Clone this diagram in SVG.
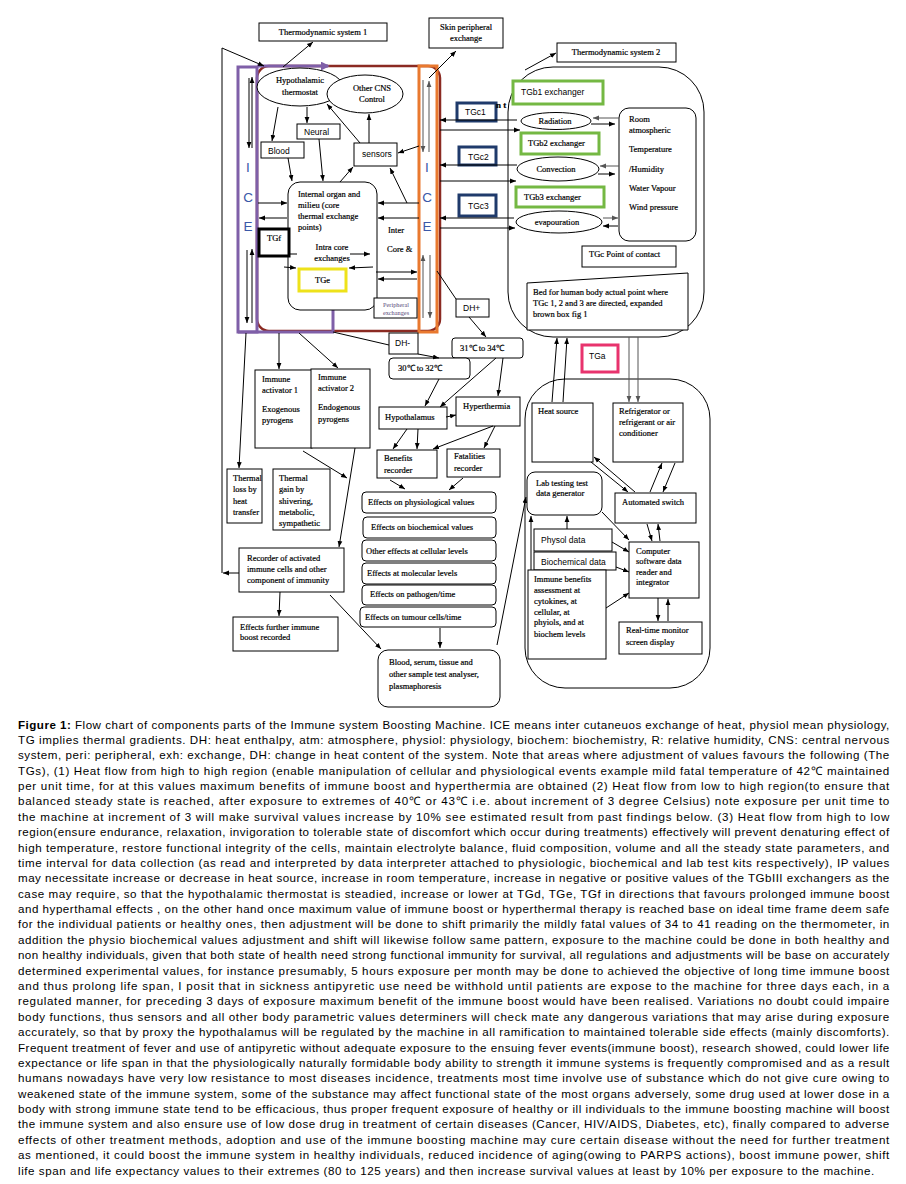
<svg xmlns="http://www.w3.org/2000/svg" width="906" height="1184" viewBox="0 0 906 1184">
<defs>
<marker id="a" viewBox="0 0 10 10" refX="10" refY="5" markerWidth="6" markerHeight="6" orient="auto" markerUnits="userSpaceOnUse"><path d="M0,1 L10,5 L0,9 z" fill="#000"/></marker>
<marker id="ag" viewBox="0 0 10 10" refX="10" refY="5" markerWidth="6" markerHeight="6" orient="auto" markerUnits="userSpaceOnUse"><path d="M0,1 L10,5 L0,9 z" fill="#555"/></marker>
<marker id="ap" viewBox="0 0 10 10" refX="8" refY="5" markerWidth="9" markerHeight="9" orient="auto" markerUnits="userSpaceOnUse"><path d="M0,0 L10,5 L0,10 z" fill="#7F5FA8"/></marker>
</defs>
<style>
.b{fill:#fff;stroke:#000;stroke-width:1}
.t{font-family:"Liberation Serif","Times New Roman",serif;font-size:8.5px;fill:#000;stroke:#000;stroke-width:0.2}
.s{font-family:"Liberation Sans",Arial,sans-serif;font-size:8.5px;fill:#000}
.m{text-anchor:middle}
.ice{font-family:"Liberation Sans",Arial,sans-serif;font-size:13.5px;fill:#3A58A8;text-anchor:middle}
.cap{font-family:"Liberation Sans Narrow","Arial Narrow","Liberation Sans",Arial,sans-serif;font-size:11.6px;letter-spacing:-0.3px;fill:#000}
#conn line,#conn path{stroke:#000;stroke-width:1;fill:none;marker-end:url(#a)}
#conn .n{marker-end:none}
#conn .g{stroke:#555;marker-end:url(#ag)}
</style>
<rect width="906" height="1184" fill="#fff"/>

<g id="brown-frame"><rect x="257" y="66" width="183" height="265" rx="12" fill="none" stroke="#8B2A22" stroke-width="2.5"/></g>
<g id="ice-left"><rect x="238" y="67" width="19" height="265" fill="none" stroke="#7F5FA8" stroke-width="3"/>
<text class="ice" x="248" y="172">I</text><text class="ice" x="248" y="202">C</text><text class="ice" x="248" y="231">E</text></g>
<g id="ice-right"><rect x="419" y="66" width="18" height="266" fill="none" stroke="#E9792F" stroke-width="3"/>
<text class="ice" x="427" y="172">I</text><text class="ice" x="427" y="202">C</text><text class="ice" x="427" y="231">E</text></g>
<line x1="257" y1="66" x2="328" y2="66" stroke="#7F5FA8" stroke-width="3" marker-end="url(#ap)"/>
<line x1="333" y1="308" x2="333" y2="332" stroke="#7F5FA8" stroke-width="3"/>
<line x1="238" y1="332" x2="334" y2="332" stroke="#7F5FA8" stroke-width="3"/>

<g id="ts1"><rect class="b" x="259" y="23" width="128" height="18"/><text class="t m" x="323" y="35">Thermodynamic system 1</text></g>
<g id="skin"><rect class="b" x="429" y="18" width="74" height="30"/><text class="t m" x="466" y="30">Skin peripheral</text><text class="t m" x="466" y="41">exchange</text></g>
<g id="ts2"><rect class="b" x="557" y="43" width="119" height="19"/><text class="t m" x="616" y="55">Thermodynamic system 2</text></g>

<g id="thermostat"><ellipse class="b" cx="300" cy="87" rx="43" ry="19"/><text class="t m" x="300" y="83">Hypothalamic</text><text class="t m" x="300" y="95">thermostat</text></g>
<g id="cns"><ellipse class="b" cx="365" cy="94" rx="38" ry="19"/><text class="t m" x="372" y="91">Other CNS</text><text class="t m" x="372" y="102">Control</text></g>
<g id="neural"><rect class="b" x="297" y="124" width="43" height="15"/><text class="s" x="304" y="135">Neural</text></g>
<g id="blood"><rect class="b" x="261" y="142" width="43" height="16"/><text class="s" x="268" y="154">Blood</text></g>
<g id="sensors"><rect class="b" x="354" y="143" width="43" height="23"/><text class="s" x="362" y="157">sensors</text></g>
<g id="internal"><rect class="b" x="288" y="182" width="89" height="128" rx="12"/>
<text class="t" x="298" y="197">Internal organ and</text><text class="t" x="298" y="208">milieu (core</text><text class="t" x="298" y="219">thermal exchange</text><text class="t" x="298" y="230">points)</text>
<text class="t m" x="332" y="250">Intra core</text><text class="t m" x="332" y="261">exchanges</text></g>
<g id="tgf"><rect x="259" y="229" width="30" height="27" fill="#fff" stroke="#000" stroke-width="3"/><text class="t" x="267" y="241">TGf</text></g>
<g id="tge"><rect x="299" y="269" width="47" height="22" fill="#fff" stroke="#EEE21A" stroke-width="3"/><text class="t" x="315" y="283">TGe</text></g>
<g id="peri"><rect class="b" x="374" y="298" width="43" height="20"/><text class="m" x="396" y="307" style="font-family:'Liberation Serif',serif;font-size:6.3px;fill:#5A4A7A">Peripheral</text><text class="m" x="396" y="315" style="font-family:'Liberation Serif',serif;font-size:6.3px;fill:#5A4A7A">exchanges</text></g>
<g id="intercore"><text class="t" x="388" y="233">Inter</text><text class="t" x="387" y="252">Core &amp;</text></g>

<g id="tgc1"><rect x="457" y="103" width="39" height="18" fill="#fff" stroke="#1F3A6B" stroke-width="3"/><text class="s" x="465" y="115">TGc1</text></g>
<g id="tgc2"><rect x="459" y="147" width="37" height="18" fill="#fff" stroke="#1F3A6B" stroke-width="3"/><text class="s" x="468" y="160">TGc2</text></g>
<g id="tgc3"><rect x="459" y="195" width="37" height="21" fill="#fff" stroke="#1F3A6B" stroke-width="3"/><text class="s" x="468" y="209">TGc3</text></g>

<g id="sys2"><rect x="508" y="67" width="196" height="270" rx="45" fill="none" stroke="#000" stroke-width="1"/></g>
<text class="t" x="496" y="108" style="font-size:9px;font-weight:bold">n t</text>
<g id="tgb1"><rect x="513" y="81" width="90" height="23" fill="#fff" stroke="#74B843" stroke-width="3"/><text class="s" x="521" y="95">TGb1 exchanger</text></g>
<g id="radiation"><ellipse class="b" cx="556" cy="121" rx="35" ry="8.5"/><text class="t m" x="555" y="124">Radiation</text></g>
<g id="tgb2"><rect x="521" y="133" width="78" height="21" fill="#fff" stroke="#74B843" stroke-width="3"/><text class="t" x="528" y="146">TGb2 exchanger</text></g>
<g id="convection"><ellipse class="b" cx="558" cy="169" rx="41" ry="12"/><text class="t m" x="556" y="172">Convection</text></g>
<g id="tgb3"><rect x="516" y="187" width="88" height="20" fill="#fff" stroke="#74B843" stroke-width="3"/><text class="t" x="524" y="200">TGb3 exchanger</text></g>
<g id="evap"><ellipse class="b" cx="559" cy="222" rx="43" ry="11"/><text class="t m" x="557" y="225">evapouration</text></g>
<g id="room"><rect class="b" x="619" y="108" width="77" height="133" rx="10"/>
<text class="t" x="629" y="122">Room</text><text class="t" x="629" y="133">atmospheric</text><text class="t" x="629" y="152">Temperature</text><text class="t" x="629" y="172">/Humidity</text><text class="t" x="629" y="191">Water Vapour</text><text class="t" x="629" y="210">Wind pressure</text></g>
<g id="contact"><rect class="b" x="582" y="246" width="94" height="21"/><text class="t" x="589" y="257">TGc Point of contact</text></g>
<g id="bed"><polygon class="b" points="527,283 688,273 688,330 527,330"/><text class="t" x="533" y="295">Bed for human body actual point where</text><text class="t" x="533" y="306">TGc 1, 2 and 3 are directed, expanded</text><text class="t" x="533" y="317">brown box fig 1</text></g>

<g id="dhplus"><rect class="b" x="456" y="299" width="33" height="18"/><text class="s" x="463" y="311">DH+</text></g>
<g id="r3134"><rect class="b" x="452" y="338" width="71" height="20" rx="3"/><text class="t" x="460" y="351">31℃  to 34℃</text></g>
<g id="dhminus"><rect class="b" x="389" y="333" width="29" height="21"/><text class="s" x="395" y="346">DH-</text></g>
<g id="r3032"><rect class="b" x="389" y="358" width="81" height="21" rx="4"/><text class="t" x="398" y="371">30℃     to 32℃</text></g>
<g id="hypothalamus"><rect class="b" x="379" y="407" width="68" height="22"/><text class="t" x="385" y="420">Hypothalamus</text></g>
<g id="hyperthermia"><rect class="b" x="456" y="397" width="64" height="29"/><text class="t" x="463" y="409">Hyperthermia</text></g>
<g id="benefits"><rect class="b" x="377" y="450" width="60" height="28"/><text class="t" x="384" y="461">Benefits</text><text class="t" x="384" y="473">recorder</text></g>
<g id="fatalities"><rect class="b" x="447" y="449" width="53" height="28"/><text class="t" x="454" y="459">Fatalities</text><text class="t" x="454" y="471">recorder</text></g>

<g id="eff1"><rect class="b" x="362" y="492" width="134" height="21" rx="4"/><text class="t" x="368" y="505">Effects on physiological values</text></g>
<g id="eff2"><rect class="b" x="363" y="517" width="133" height="21" rx="4"/><text class="t" x="371" y="530">Effects on biochemical values</text></g>
<g id="eff3"><rect class="b" x="362" y="540" width="134" height="21" rx="4"/><text class="t" x="366" y="554">Other effects at cellular levels</text></g>
<g id="eff4"><rect class="b" x="362" y="563" width="134" height="21" rx="4"/><text class="t" x="367" y="576">Effects at molecular levels</text></g>
<g id="eff5"><rect class="b" x="362" y="585" width="134" height="20" rx="4"/><text class="t" x="370" y="597">Effects on pathogen/time</text></g>
<g id="eff6"><rect class="b" x="360" y="607" width="136" height="20" rx="4"/><text class="t" x="365" y="620">Effects on tumour cells/time</text></g>
<g id="analyser"><rect class="b" x="378" y="650" width="122" height="57" rx="10"/><text class="t" x="389" y="665">Blood, serum, tissue and</text><text class="t" x="389" y="677">other sample test analyser,</text><text class="t" x="389" y="689">plasmaphoresis</text></g>

<g id="act1"><rect class="b" x="255" y="370" width="57" height="78"/><text class="t" x="262" y="382">Immune</text><text class="t" x="262" y="393">activator 1</text><text class="t" x="262" y="412">Exogenous</text><text class="t" x="262" y="423">pyrogens</text></g>
<g id="act2"><rect class="b" x="311" y="369" width="59" height="79"/><text class="t" x="318" y="380">Immune</text><text class="t" x="318" y="391">activator 2</text><text class="t" x="318" y="410">Endogenous</text><text class="t" x="318" y="422">pyrogens</text></g>
<g id="tloss"><rect class="b" x="227" y="469" width="35" height="54"/><text class="t" x="233" y="481">Thermal</text><text class="t" x="233" y="492">loss by</text><text class="t" x="233" y="504">heat</text><text class="t" x="233" y="515">transfer</text></g>
<g id="tgain"><rect class="b" x="273" y="469" width="57" height="61"/><text class="t" x="279" y="481">Thermal</text><text class="t" x="279" y="492">gain by</text><text class="t" x="279" y="504">shivering,</text><text class="t" x="279" y="515">metabolic,</text><text class="t" x="279" y="526">sympathetic</text></g>
<g id="recorder"><rect class="b" x="239" y="548" width="105" height="44"/><text class="t" x="247" y="561">Recorder of activated</text><text class="t" x="247" y="572">immune cells and other</text><text class="t" x="247" y="583">component of immunity</text></g>
<g id="further"><rect class="b" x="233" y="617" width="105" height="34"/><text class="t" x="240" y="630">Effects further immune</text><text class="t" x="240" y="640">boost recorded</text></g>

<g id="sys3"><rect x="525" y="379" width="185" height="309" rx="40" fill="none" stroke="#000" stroke-width="1"/></g>
<g id="tga"><rect x="582" y="345" width="36" height="27" fill="#fff" stroke="#E8336D" stroke-width="3"/><text class="s" x="589" y="359">TGa</text></g>
<g id="heat"><rect class="b" x="532" y="403" width="61" height="59"/><text class="t" x="538" y="414">Heat source</text></g>
<g id="fridge"><rect class="b" x="613" y="403" width="70" height="59"/><text class="t" x="619" y="414">Refrigerator or</text><text class="t" x="619" y="425">refrigerant or air</text><text class="t" x="619" y="436">conditioner</text></g>
<g id="lab"><rect class="b" x="527" y="472" width="75" height="43" rx="8"/><text class="t" x="536" y="486">Lab testing  test</text><text class="t" x="536" y="496">data generator</text></g>
<g id="switch"><rect class="b" x="615" y="493" width="81" height="30"/><text class="t" x="622" y="505">Automated switch</text></g>
<g id="physol"><rect class="b" x="534" y="529" width="78" height="22"/><text class="s" x="541" y="543">Physol  data</text></g>
<g id="biochem"><rect class="b" x="534" y="552" width="82" height="18"/><text class="s" x="541" y="565">Biochemical data</text></g>
<g id="ibenefit"><rect class="b" x="528" y="570" width="78" height="89"/><text class="t" x="534" y="582">Immune benefits</text><text class="t" x="534" y="593">assessment at</text><text class="t" x="534" y="604">cytokines, at</text><text class="t" x="534" y="615">cellular, at</text><text class="t" x="534" y="625">phyiols, and at</text><text class="t" x="534" y="637">biochem levels</text></g>
<g id="computer"><rect class="b" x="629" y="542" width="70" height="56"/><text class="t" x="636" y="554">Computer</text><text class="t" x="636" y="564">software data</text><text class="t" x="636" y="575">reader and</text><text class="t" x="636" y="585">integrator</text></g>
<g id="monitor"><rect class="b" x="619" y="622" width="83" height="32"/><text class="t" x="626" y="633">Real-time monitor</text><text class="t" x="626" y="645">screen display</text></g>

<g id="conn">
<path d="M222,573 V48 L264,66"/>
<line x1="239" y1="573" x2="223" y2="573"/>
<line x1="283" y1="67" x2="313" y2="42"/>
<line x1="429" y1="78" x2="456" y2="51"/>
<line x1="278" y1="107" x2="272" y2="141"/>
<line x1="307" y1="107" x2="307" y2="123"/>
<line x1="369" y1="143" x2="369" y2="114"/>
<line x1="360" y1="143" x2="327" y2="104"/>
<line x1="419" y1="146" x2="398" y2="153"/>
<line x1="319" y1="139" x2="323" y2="181"/>
<line x1="288" y1="158" x2="292" y2="181"/>
<line x1="340" y1="182" x2="353" y2="167"/>
<line x1="407" y1="203" x2="390" y2="168"/>
<line x1="419" y1="203" x2="378" y2="203"/>
<line x1="419" y1="218" x2="378" y2="218"/>
<line x1="258" y1="203" x2="287" y2="203"/>
<line x1="287" y1="218" x2="259" y2="218"/>
<line class="n" x1="289" y1="254" x2="297" y2="254"/>
<line x1="284" y1="267" x2="296" y2="268"/>
<line x1="350" y1="254" x2="370" y2="254"/>
<line x1="373" y1="267" x2="349" y2="268"/>
<line x1="376" y1="272" x2="417" y2="272"/>
<line x1="417" y1="279" x2="378" y2="279"/>
<line x1="249" y1="78" x2="249" y2="148"/>
<line x1="252" y1="148" x2="252" y2="77"/>
<line x1="247" y1="250" x2="247" y2="323"/>
<line x1="252" y1="323" x2="252" y2="249"/>
<line class="g" x1="423" y1="80" x2="423" y2="152"/>
<line class="g" x1="429" y1="152" x2="429" y2="81"/>
<line class="g" x1="423" y1="318" x2="423" y2="255"/>
<line class="g" x1="430" y1="255" x2="430" y2="318"/>
<line x1="517" y1="120" x2="440" y2="120"/>
<line x1="440" y1="130" x2="520" y2="130"/>
<line x1="517" y1="165" x2="440" y2="165"/>
<line x1="440" y1="181" x2="516" y2="181"/>
<line x1="514" y1="218" x2="440" y2="218"/>
<line x1="440" y1="228" x2="515" y2="228"/>
<line class="g" x1="619" y1="118" x2="593" y2="118"/>
<line x1="591" y1="124" x2="615" y2="124"/>
<line class="g" x1="619" y1="166" x2="600" y2="166"/>
<line x1="598" y1="174" x2="615" y2="174"/>
<line class="g" x1="603" y1="218" x2="618" y2="218"/>
<line x1="618" y1="226" x2="603" y2="226"/>
<line x1="525" y1="70" x2="556" y2="53"/>
<line class="n" x1="437" y1="271" x2="456" y2="299"/>
<line x1="469" y1="317" x2="486" y2="337"/>
<line class="n" x1="333" y1="332" x2="389" y2="345"/>
<line x1="418" y1="354" x2="439" y2="358"/>
<line x1="439" y1="379" x2="425" y2="406"/>
<line x1="496" y1="358" x2="440" y2="407"/>
<line x1="503" y1="358" x2="498" y2="396"/>
<line x1="446" y1="417" x2="456" y2="415"/>
<line x1="407" y1="429" x2="393" y2="449"/>
<line x1="418" y1="429" x2="417" y2="449"/>
<line x1="493" y1="426" x2="433" y2="449"/>
<line x1="495" y1="426" x2="484" y2="448"/>
<line x1="390" y1="480" x2="405" y2="489"/>
<line x1="463" y1="478" x2="449" y2="490"/>
<line x1="440" y1="628" x2="440" y2="648"/>
<line x1="497" y1="645" x2="526" y2="497"/>
<line x1="330" y1="595" x2="381" y2="649"/>
<line x1="355" y1="448" x2="339" y2="547"/>
<line x1="303" y1="451" x2="347" y2="478"/>
<line x1="279" y1="333" x2="279" y2="369"/>
<line x1="299" y1="333" x2="338" y2="368"/>
<line x1="246" y1="333" x2="239" y2="468"/>
<line x1="280" y1="592" x2="279" y2="616"/>
<line x1="552" y1="402" x2="557" y2="338"/>
<line x1="563" y1="402" x2="567" y2="338"/>
<line class="g" x1="629" y1="337" x2="629" y2="402"/>
<line class="g" x1="638" y1="337" x2="638" y2="402"/>
<line x1="635" y1="492" x2="594" y2="457"/>
<line x1="591" y1="462" x2="628" y2="492"/>
<line x1="650" y1="492" x2="662" y2="463"/>
<line x1="675" y1="463" x2="663" y2="492"/>
<line x1="602" y1="512" x2="629" y2="540"/>
<line x1="567" y1="529" x2="567" y2="516"/>
<line x1="531" y1="570" x2="531" y2="516"/>
<line x1="612" y1="542" x2="629" y2="552"/>
<line x1="616" y1="567" x2="629" y2="572"/>
<line x1="606" y1="608" x2="629" y2="593"/>
<line x1="647" y1="524" x2="652" y2="541"/>
<line x1="660" y1="541" x2="658" y2="524"/>
<line x1="658" y1="598" x2="658" y2="621"/>
<line x1="668" y1="621" x2="668" y2="599"/>
</g>

<g id="caption">
<text class="cap" x="18" y="728.5" textLength="871" lengthAdjust="spacing"><tspan font-weight="bold">Figure 1:</tspan> Flow chart of components parts of the Immune system Boosting Machine. ICE means inter cutaneuos exchange of heat, physiol mean physiology,</text>
<text class="cap" x="18" y="743.9" textLength="871" lengthAdjust="spacing">TG implies thermal gradients. DH:  heat enthalpy, atm: atmosphere, physiol: physiology, biochem: biochemistry, R: relative humidity, CNS: central nervous</text>
<text class="cap" x="18" y="759.3" textLength="871" lengthAdjust="spacing">system, peri: peripheral, exh: exchange, DH:  change in heat content of the system. Note that areas where adjustment of values favours the following (The</text>
<text class="cap" x="18" y="774.6" textLength="871" lengthAdjust="spacing">TGs), (1) Heat flow from high to high region (enable manipulation of cellular and physiological events example mild fatal temperature of 42℃  maintained</text>
<text class="cap" x="18" y="790.0" textLength="871" lengthAdjust="spacing">per unit time, for at  this values  maximum benefits of immune boost and hyperthermia are obtained (2) Heat flow from low to high region(to ensure that</text>
<text class="cap" x="18" y="805.4" textLength="871" lengthAdjust="spacing">balanced steady state is reached, after exposure to extremes of 40℃ or 43℃  i.e. about increment of 3 degree Celsius) note exposure per unit time to</text>
<text class="cap" x="18" y="820.8" textLength="871" lengthAdjust="spacing">the machine at increment of 3 will make survival values increase by 10% see estimated result from past findings  below. (3) Heat flow from high to low</text>
<text class="cap" x="18" y="836.2" textLength="871" lengthAdjust="spacing">region(ensure endurance, relaxation, invigoration to tolerable state of discomfort which occur during treatments)  effectively will  prevent denaturing effect of</text>
<text class="cap" x="18" y="851.5" textLength="871" lengthAdjust="spacing">high temperature, restore functional integrity of the cells, maintain  electrolyte balance, fluid composition, volume and all the  steady state parameters, and</text>
<text class="cap" x="18" y="866.9" textLength="871" lengthAdjust="spacing">time interval for data collection  (as read and interpreted by data interpreter  attached  to physiologic, biochemical and  lab test kits respectively), IP values</text>
<text class="cap" x="18" y="882.3" textLength="871" lengthAdjust="spacing">may necessitate increase or decrease in heat source, increase in room temperature, increase in negative or positive values of the TGbIII exchangers as the</text>
<text class="cap" x="18" y="897.7" textLength="871" lengthAdjust="spacing">case may require, so that the hypothalamic thermostat is steadied, increase or lower at TGd, TGe, TGf in directions that favours prolonged immune boost</text>
<text class="cap" x="18" y="913.1" textLength="871" lengthAdjust="spacing">and hyperthamal effects , on the other hand once maximum value of immune boost or hyperthermal therapy is reached  base on ideal time frame deem safe</text>
<text class="cap" x="18" y="928.4" textLength="871" lengthAdjust="spacing">for the individual patients or healthy ones, then adjustment will be done to shift primarily the mildly fatal values of 34 to 41 reading on the  thermometer, in</text>
<text class="cap" x="18" y="943.8" textLength="871" lengthAdjust="spacing">addition the physio biochemical values adjustment and shift will likewise follow same pattern,  exposure to the machine could be done in both healthy and</text>
<text class="cap" x="18" y="959.2" textLength="871" lengthAdjust="spacing">non healthy individuals, given that both state of health need strong functional immunity for survival, all regulations and adjustments will be base on accurately</text>
<text class="cap" x="18" y="974.6" textLength="871" lengthAdjust="spacing">determined experimental values, for instance presumably, 5 hours exposure per month may be done  to achieved the objective of long time immune boost</text>
<text class="cap" x="18" y="990.0" textLength="871" lengthAdjust="spacing">and thus prolong life span, I posit that in sickness antipyretic use need be withhold until patients are expose to the machine for three days  each, in a</text>
<text class="cap" x="18" y="1005.3" textLength="871" lengthAdjust="spacing">regulated manner, for preceding  3 days of  exposure  maximum  benefit of  the immune boost would have been realised. Variations no doubt could impaire</text>
<text class="cap" x="18" y="1020.7" textLength="871" lengthAdjust="spacing">body functions, thus sensors and all other body parametric values determiners will check mate any dangerous variations that may arise during exposure</text>
<text class="cap" x="18" y="1036.1" textLength="871" lengthAdjust="spacing">accurately, so that by proxy the hypothalamus will be regulated by the machine in all ramification to maintained tolerable side effects (mainly discomforts).</text>
<text class="cap" x="18" y="1051.5" textLength="871" lengthAdjust="spacing">Frequent treatment of fever and use of antipyretic without adequate exposure to the ensuing fever events(immune boost), research showed, could lower life</text>
<text class="cap" x="18" y="1066.9" textLength="871" lengthAdjust="spacing">expectance or life span in that the  physiologically naturally formidable body ability to strength it immune systems is frequently compromised and as a result</text>
<text class="cap" x="18" y="1082.2" textLength="871" lengthAdjust="spacing">humans nowadays have very low resistance to most diseases incidence, treatments most time involve use of substance which do not give cure owing to</text>
<text class="cap" x="18" y="1097.6" textLength="871" lengthAdjust="spacing">weakened state of the immune system, some of the substance may affect functional state of the most organs adversely, some drug used at lower dose in a</text>
<text class="cap" x="18" y="1113.0" textLength="871" lengthAdjust="spacing">body with strong immune state tend to be efficacious, thus proper frequent exposure of healthy or ill individuals to the immune boosting machine will boost</text>
<text class="cap" x="18" y="1128.4" textLength="871" lengthAdjust="spacing">the immune system and also ensure use of low dose drug in treatment of certain diseases (Cancer, HIV/AIDS, Diabetes, etc), finally compared to adverse</text>
<text class="cap" x="18" y="1143.8" textLength="871" lengthAdjust="spacing">effects of other treatment methods, adoption and  use of the immune boosting machine may cure certain disease without the need for further treatment</text>
<text class="cap" x="18" y="1159.1" textLength="871" lengthAdjust="spacing">as mentioned, it could boost the immune system in healthy individuals, reduced incidence of aging(owing to PARPS actions), boost immune power, shift</text>
<text class="cap" x="18" y="1174.5" textLength="856" lengthAdjust="spacing">life span and life expectancy values  to their extremes (80 to 125 years) and  then increase survival values at least by 10% per exposure to the machine.</text>
</g>
</svg>
